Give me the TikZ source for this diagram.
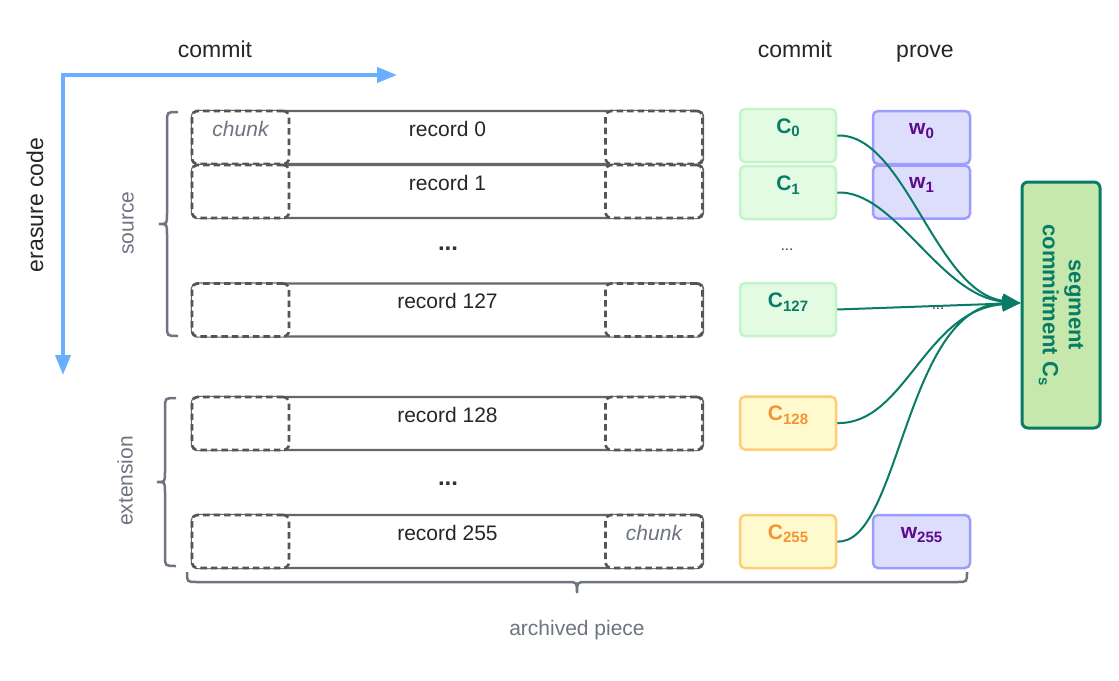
\documentclass[tikz,border=0pt]{standalone}
\usepackage{fontspec}
\setmainfont{Liberation Sans}
\usetikzlibrary{arrows.meta}
\definecolor{axisblue}{HTML}{6AAFFF}
\definecolor{rowgray}{HTML}{666666}
\definecolor{dashgray}{HTML}{555555}
\definecolor{labgray}{HTML}{6E7480}
\definecolor{teal}{HTML}{087C66}
\definecolor{cfill}{HTML}{E3FAE3}
\definecolor{cdraw}{HTML}{C3F5C8}
\definecolor{ofill}{HTML}{FFFACD}
\definecolor{odraw}{HTML}{FFCC77}
\definecolor{otext}{HTML}{F59331}
\definecolor{wfill}{HTML}{DDDDFC}
\definecolor{wdraw}{HTML}{9D9DFF}
\definecolor{wtext}{HTML}{5E0A8C}
\definecolor{sfill}{HTML}{C6E8AD}
\newcommand\sbs[1]{\raisebox{-0.35ex}{\fontsize{15}{15}\selectfont #1}}
\begin{document}
\begin{tikzpicture}[x=1pt,y=-1pt,
  rowbox/.style={draw=rowgray, line width=2.4pt, rounded corners=5pt, minimum width=511pt, minimum height=53pt, inner sep=0pt},
  chunkbox/.style={draw=dashgray, dash pattern=on 6.5pt off 4pt, line width=2.6pt, rounded corners=6pt, fill=white, minimum width=97pt, minimum height=53pt, inner sep=0pt},
  rowtext/.style={font=\fontsize{21}{21}\selectfont, text=black!85},
  chunktext/.style={font=\fontsize{21}{21}\selectfont\itshape, text=labgray},
  cbox/.style={draw=cdraw, fill=cfill, line width=2.5pt, rounded corners=5pt, minimum width=96pt, minimum height=53pt, inner sep=0pt},
  obox/.style={draw=odraw, fill=ofill, line width=2.5pt, rounded corners=5pt, minimum width=96pt, minimum height=53pt, inner sep=0pt},
  wbox/.style={draw=wdraw, fill=wfill, line width=2.5pt, rounded corners=5pt, minimum width=97pt, minimum height=53pt, inner sep=0pt},
  boxtext/.style={font=\fontsize{21}{21}\selectfont\bfseries},
  toplabel/.style={font=\fontsize{23}{23}\selectfont, text=black!85},
  sidelabel/.style={font=\fontsize{21}{21}\selectfont, text=labgray, rotate=90},
  brace/.style={draw=labgray, line width=2.5pt},
  conn/.style={draw=teal, line width=2pt, -{Triangle[length=18pt,width=14pt]}},
  dots/.style={font=\fontsize{24}{24}\selectfont\bfseries, text=black!80},
  smalldots/.style={font=\fontsize{15}{15}\selectfont, text=black!80}
]
\useasboundingbox (0,0) rectangle (1119,680);
\fill[white] (0,0) rectangle (1119,680);

% axes
\coordinate (axr) at (397,75);
\coordinate (axc) at (63,75);
\coordinate (axd) at (63,375);
\draw[axisblue, line width=4pt, line join=miter, {Triangle[length=20pt,width=15pt]}-{Triangle[length=20pt,width=15pt]}] (axr) -- (axc) -- (axd);
\node[toplabel, anchor=base] (lcommit) at (215,57) {commit};
\node[toplabel, rotate=90] (lerasure) at (35,205) {erasure code};
\node[toplabel, anchor=base] (lcommit2) at (795,57) {commit};
\node[toplabel, anchor=base] (lprove) at (925,57) {prove};

% rows
\foreach \n/\y in {0/137.5, 1/191.5, 127/310, 128/423.5, 255/541.5}{
  \node[rowbox] (r\n) at (447.5,\y) {};
  \node[rowtext] (rt\n) at ([yshift=-19pt]r\n.north) {record \n};
  \node[chunkbox] (cl\n) at (240.5,\y) {};
  \node[chunkbox] (cr\n) at (654,\y) {};
}
\node[chunktext] (chl) at ([yshift=-19pt]cl0.north) {chunk};
\node[chunktext] (chr) at ([yshift=-19pt]cr255.north) {chunk};
\node[dots] (d1) at (448,249) {...};
\node[dots] (d2) at (448,484) {...};

% commitments
\node[cbox] (c0) at (788,135.5) {};
\node[cbox] (c1) at (788,192.5) {};
\node[cbox] (c127) at (788,309.5) {};
\node[obox] (c128) at (788,423) {};
\node[obox] (c255) at (788,541.5) {};
\foreach \n in {0,1,127}{
  \node[boxtext, text=teal] at ([yshift=-20pt]c\n.north) {C\sbs{\n}};
}
\foreach \n in {128,255}{
  \node[boxtext, text=otext] at ([yshift=-20pt]c\n.north) {C\sbs{\n}};
}
\node[smalldots] (d3) at (787,250) {...};

% witnesses
\node[wbox] (w0) at (921.5,137.5) {};
\node[wbox] (w1) at (921.5,192) {};
\node[wbox] (w255) at (921.5,541.5) {};
\foreach \n in {0,1,255}{
  \node[boxtext, text=wtext] at ([yshift=-21pt]w\n.north) {w\sbs{\n}};
}

% segment commitment
\node[draw=teal, fill=sfill, line width=3pt, rounded corners=6pt, minimum width=246pt, minimum height=78pt, rotate=-90, align=center, font=\fontsize{22}{26}\selectfont\bfseries, text=teal, inner sep=0pt] (seg) at (1061,305) {segment\\commitment C\sbs{s}};
\coordinate (T) at ([yshift=2pt]seg.south);

% connectors
\draw[conn] (c0.east) .. controls (905,133) and (935,292) .. (T);
\draw[conn] (c1.east) .. controls (895,190) and (940,296) .. (T);
\draw[conn] (c127.east) -- (T);
\draw[conn] (c128.east) .. controls (905,425) and (925,310) .. (T);
\draw[conn] (c255.east) .. controls (900,545) and (905,305) .. (T);
\node[smalldots] (d4) at (938,309) {...};

% braces
\draw[brace] (178,112) .. controls (167,112) .. (167,122) -- (167,214) .. controls (167,224) .. (159,224) .. controls (167,224) .. (167,234) -- (167,326) .. controls (167,336) .. (178,336);
\node[sidelabel] (lsource) at (128,223) {source};
\draw[brace] (176,398) .. controls (165,398) .. (165,408) -- (165,472) .. controls (165,482) .. (157,482) .. controls (165,482) .. (165,492) -- (165,556) .. controls (165,566) .. (176,566);
\node[sidelabel] (lext) at (125,481) {extension};
\draw[brace] (187,572) .. controls (187,582) .. (197,582) -- (567,582) .. controls (577,582) .. (577,593) .. controls (577,582) .. (587,582) -- (957,582) .. controls (967,582) .. (967,572);
\node[font=\fontsize{21}{21}\selectfont, text=labgray] (larch) at (577,630) {archived piece};
\end{tikzpicture}
\end{document}
